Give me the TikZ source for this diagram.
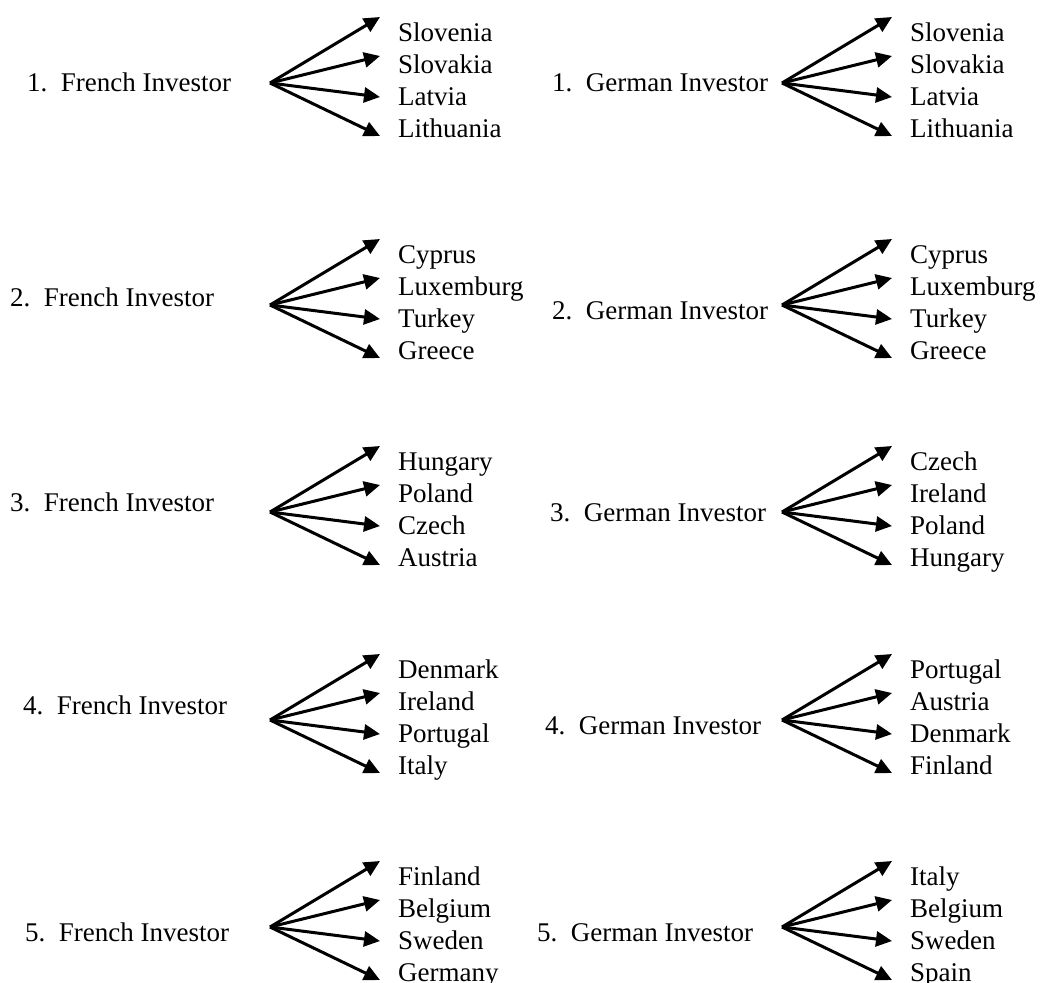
\documentclass[tikz,border=0pt]{standalone}
\usepackage{fontspec}
\setmainfont{Liberation Serif}
\usepackage{tikz}
\usetikzlibrary{arrows.meta}
\tikzstyle{investor}=[anchor=base west,inner sep=0pt,font=\fontsize{27}{32}\selectfont]
\tikzstyle{country}=[anchor=base west,inner sep=0pt,font=\fontsize{27}{32}\selectfont]
\tikzstyle{edge} = [draw,line width=3pt,-{Triangle[length=16pt,width=15pt]}]

\begin{document}
\begin{tikzpicture}[x=1pt,y=-1pt]
    \useasboundingbox (0,0) rectangle (1042,983);
    % First the investor labels
    \foreach \pos/\name/\num in {{(27,91)/fl1/1}, {(10,306)/fl2/2}, {(10,511)/fl3/3}, {(23,714)/fl4/4}, {(25,941)/fl5/5}}
        \node[investor] (\name) at \pos {\num.\enspace French Investor};
    \foreach \pos/\name/\num in {{(552,91)/gl1/1}, {(552,319)/gl2/2}, {(550,521)/gl3/3}, {(545,734)/gl4/4}, {(537,941)/gl5/5}}
        \node[investor] (\name) at \pos {\num.\enspace German Investor};

    % Then the fans of arrows and the countries
    \foreach \col/\vx/\vy/\i/\ca/\cb/\cc/\cd in {
        f/270/83/1/Slovenia/Slovakia/Latvia/Lithuania,
        f/270/305/2/Cyprus/Luxemburg/Turkey/Greece,
        f/270/512/3/Hungary/Poland/Czech/Austria,
        f/270/720/4/Denmark/Ireland/Portugal/Italy,
        f/270/927/5/Finland/Belgium/Sweden/Germany,
        g/782/83/1/Slovenia/Slovakia/Latvia/Lithuania,
        g/782/305/2/Cyprus/Luxemburg/Turkey/Greece,
        g/782/512/3/Czech/Ireland/Poland/Hungary,
        g/782/720/4/Portugal/Austria/Denmark/Finland,
        g/782/927/5/Italy/Belgium/Sweden/Spain}
    {
        \coordinate (\col\i) at (\vx,\vy);
        \foreach \ty/\by/\k/\name in {-66/-42/a/\ca, -27/-10/b/\cb, 14/22/c/\cc, 53/54/d/\cd} {
            \coordinate (\col\i\k tip) at ({\vx+110},{\vy+\ty});
            \node[country] (\col\i\k) at ({\vx+128},{\vy+\by}) {\name};
            \path[edge] (\col\i) -- (\col\i\k tip);
        }
    }
\end{tikzpicture}
\end{document}
